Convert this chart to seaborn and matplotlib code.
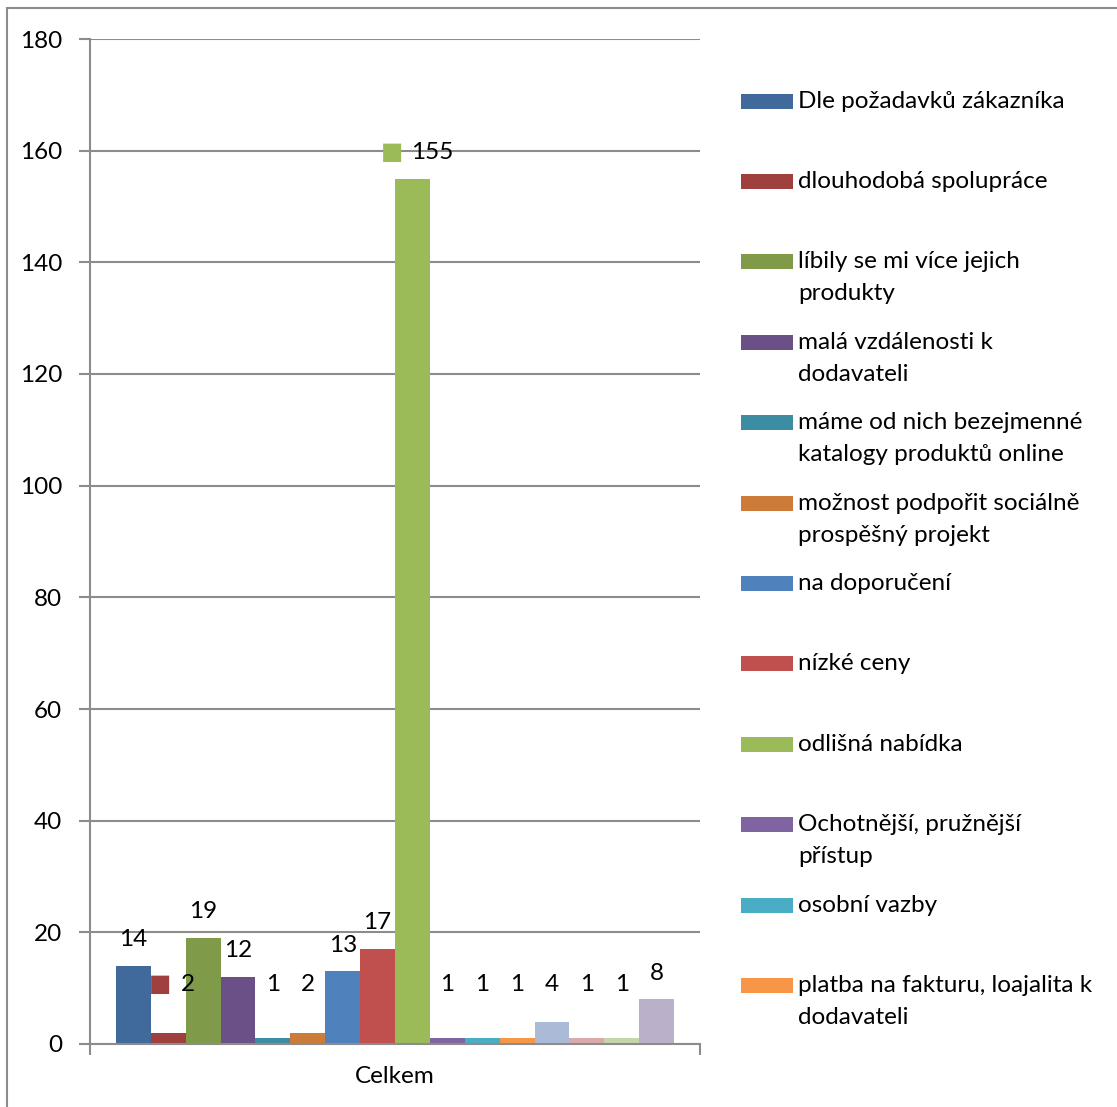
import matplotlib
matplotlib.use("Agg")
import matplotlib.pyplot as plt
from matplotlib.patches import Rectangle
import seaborn as sns
import pandas as pd

# Responses: reasons for choosing the supplier (one group "Celkem")
group_label = "Celkem"
values = [14, 2, 19, 12, 1, 2, 13, 17, 155, 1, 1, 1, 4, 1, 1, 8]
legend_labels = [
    "Dle požadavků zákazníka",
    "dlouhodobá spolupráce",
    "líbily se mi více jejich\nprodukty",
    "malá vzdálenosti k\ndodavateli",
    "máme od nich bezejmenné\nkatalogy produktů online",
    "možnost podpořit sociálně\nprospěšný projekt",
    "na doporučení",
    "nízké ceny",
    "odlišná nabídka",
    "Ochotnější, pružnější\npřístup",
    "osobní vazby",
    "platba na fakturu, loajalita k\ndodavateli",
]
colors = [
    "#40699C", "#A0403E", "#7F9A48", "#6A5087", "#3C8DA3", "#CC7B38",
    "#4F81BD", "#C0504D", "#9BBB59", "#8064A2", "#4BACC6", "#F79646",
    "#AABAD7", "#D9AAA9", "#C6D6AC", "#BAB0C9",
]
y_ticks = list(range(0, 181, 20))

sns.set_theme(style="white")
plt.rcParams["font.family"] = ["Lato", "DejaVu Sans"]

W, H = 1117, 1107
FS = 17.5
fig = plt.figure(figsize=(W / 100, H / 100), dpi=100)
ax = fig.add_axes([90 / W, 1 - 1044 / H, 610 / W, (1044 - 39) / H])

codes = [f"s{i:02d}" for i in range(len(values))]
df = pd.DataFrame({"group": [group_label] * len(values), "series": codes, "value": values})
sns.barplot(data=df, x="group", y="value", hue="series", hue_order=codes,
            palette=colors, saturation=1, width=0.915, dodge=True,
            legend=False, ax=ax, linewidth=0, errorbar=None)

grey = "#8C8C8C"
ax.set_xlim(-0.5, 0.5)
ax.set_ylim(0, 180)
ax.set_yticks(y_ticks)
ax.yaxis.grid(True, color=grey, linewidth=1.5)
ax.set_axisbelow(True)
for side in ("top", "right"):
    ax.spines[side].set_visible(False)
for side in ("left", "bottom"):
    ax.spines[side].set_color(grey)
    ax.spines[side].set_linewidth(1.5)
ax.set_xlabel("")
ax.set_ylabel("")
ax.tick_params(axis="y", left=True, length=8, width=1.5, color=grey,
               labelsize=FS, pad=12, labelcolor="black")
ax.set_xticks([-0.5, 0.5], minor=True)
ax.tick_params(axis="x", which="minor", bottom=True, length=8, width=1.5, color=grey)
ax.tick_params(axis="x", which="major", length=0, labelsize=FS, pad=16, labelcolor="black")

# Value labels above bars; two of them carry a legend key
keyed = {1, 8}
bars = ax.patches
for i, (bar, v) in enumerate(zip(bars, values)):
    cx = bar.get_x() + bar.get_width() / 2
    ty = max(v, 6) + 4.7
    if i in keyed:
        ax.annotate(str(v), (cx, ty), xytext=(14, 0), textcoords="offset points",
                    ha="center", va="center", fontsize=FS, color="black")
        ax.annotate("■", (cx, ty), xytext=(-15 if i == 8 else -6, 0), textcoords="offset points",
                    ha="center", va="center", fontsize=17, color=colors[i],
                    family="DejaVu Sans")
    else:
        ax.annotate(str(v), (cx, ty), ha="center", va="center", fontsize=FS, color="black")

# Legend drawn at the right of the plot
key_x0, key_w, key_h = 741, 52, 15
text_x = 798
line_h = 32
for j, (lab, col) in enumerate(zip(legend_labels, colors)):
    yc = 101 + j * 80.4
    fig.patches.append(Rectangle((key_x0 / W, 1 - (yc + key_h / 2) / H), key_w / W, key_h / H,
                                 transform=fig.transFigure, facecolor=col, edgecolor="none"))
    for k, line in enumerate(lab.split("\n")):
        fig.text(text_x / W, 1 - (yc + k * line_h) / H, line, ha="left", va="center",
                 fontsize=FS, color="black")

# Outer chart frame
fig.patches.append(Rectangle((7 / W, -0.05), 1.2, 1 - 8 / H + 0.05, transform=fig.transFigure,
                             facecolor="none", edgecolor=grey, linewidth=1.5))

fig.savefig("out.png", dpi=100, facecolor="white")
